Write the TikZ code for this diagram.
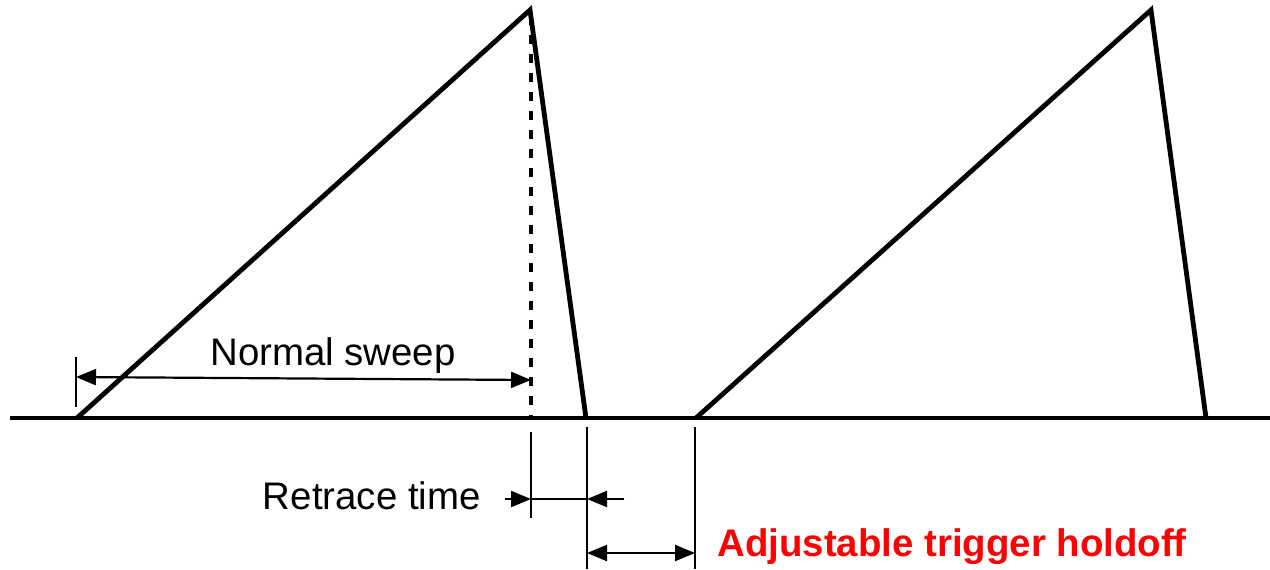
\documentclass[tikz,border=0pt]{standalone}
\usepackage{fontspec}
\setmainfont{Liberation Sans}
\usetikzlibrary{arrows.meta}
\begin{document}
\begin{tikzpicture}[x=0.5pt,y=-0.5pt,
  thick line/.style={line width=2.4pt,line join=miter},
  thin line/.style={line width=1.1pt},
  arr/.tip={Triangle[length=10pt,width=8pt]},
  tip/.style={-arr},
  lbl/.style={font=\fontsize{19.2pt}{22pt}\selectfont,inner sep=0pt}]
\useasboundingbox (0,0) rectangle (1270,569);
% coordinates
\coordinate (b0) at (10,418);
\coordinate (b1) at (1270,418);
\coordinate (s1) at (77,418);
\coordinate (p1) at (530,10);
\coordinate (e1) at (586,418);
\coordinate (s2) at (696,418);
\coordinate (p2) at (1151,10);
\coordinate (e2) at (1206,418);
\coordinate (d0) at (531,16);
\coordinate (d1) at (531,418);
% waveform
\draw[thick line] (b0) -- (b1);
\draw[thick line] (s1) -- (p1) -- (e1);
\draw[thick line] (s2) -- (p2) -- (e2);
\draw[line width=2.4pt,dash pattern=on 4.5pt off 5pt] (d0) -- (d1);
% normal sweep
\coordinate (t0) at (76,357);
\coordinate (t1) at (76,407);
\draw[thin line] (t0) -- (t1);
\coordinate (ns0) at (76,377);
\coordinate (ns1) at (531,380);
\draw[thin line,arr-arr] (ns0) -- (ns1);
\node[lbl] (ns) at (333,356) {Normal sweep};
% retrace time
\coordinate (r0a) at (531,432);
\coordinate (r0b) at (531,518);
\coordinate (r1a) at (587,427);
\coordinate (r1b) at (587,569);
\coordinate (h1a) at (695,427);
\coordinate (h1b) at (695,569);
\draw[thin line] (r0a) -- (r0b);
\draw[thin line] (r1a) -- (r1b);
\draw[thin line] (h1a) -- (h1b);
\coordinate (ra) at (505,499);
\coordinate (rb) at (531,499);
\coordinate (rc) at (587,499);
\coordinate (rd) at (624,499);
\draw[thin line,tip] (ra) -- (rb);
\draw[thin line] (rb) -- (rc);
\draw[thin line,tip] (rd) -- (rc);
\node[lbl,anchor=east] (rt) at (481,496) {Retrace time};
% holdoff
\coordinate (ha) at (587,553);
\coordinate (hb) at (695,553);
\draw[thin line,arr-arr] (ha) -- (hb);
\node[lbl,anchor=west,text=red,font=\fontsize{19.2pt}{22pt}\selectfont\bfseries] (ho) at (717,547) {Adjustable trigger holdoff};
\end{tikzpicture}
\end{document}
